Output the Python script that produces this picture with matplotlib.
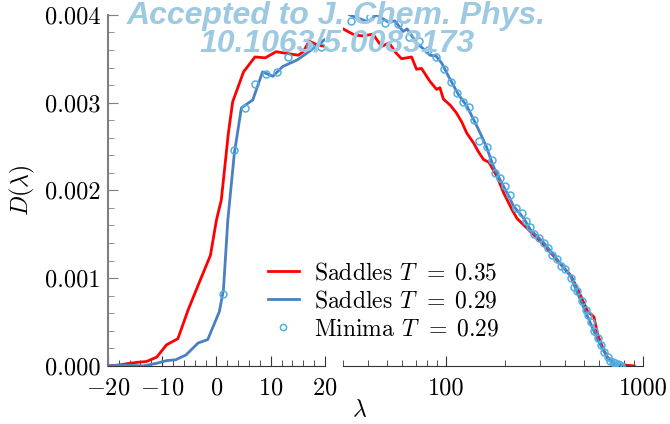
import numpy as np
import matplotlib
matplotlib.use('Agg')
import matplotlib.pyplot as plt
from matplotlib.ticker import MultipleLocator, FixedLocator, NullFormatter
from matplotlib.lines import Line2D

plt.rcParams['font.family'] = 'serif'
plt.rcParams['font.serif'] = ['cmr10']
plt.rcParams['mathtext.fontset'] = 'cm'
plt.rcParams['axes.formatter.use_mathtext'] = True

# ---- data ----
# linear part, lambda in [-20, 20]
lam_red_lin = [-20, -18, -16, -14.7, -12.9, -11.0, -9.2, -7.1, -5.2, -3.1, -1.1, 0.0, 0.9,
               2.2, 3.0, 5.0, 7.1, 9.0, 11.0, 13.0, 15.1, 16.0, 17.1, 18.5, 20]
D_red_lin = [0, 0.00001, 0.00003, 0.00004, 0.00005, 0.0001, 0.00024, 0.00031, 0.00064, 0.00096,
             0.00126, 0.00166, 0.00189, 0.00265, 0.00301, 0.00335, 0.00352, 0.00351, 0.00358,
             0.00356, 0.00354, 0.00358, 0.0037, 0.00366, 0.00364]

lam_blue_lin = [-20, -17, -13.5, -11, -9.2, -7.5, -5.6, -3.4, -1.6, 0.55, 1.3, 2.1, 3.3, 4.6,
                6.7, 8.5, 10.4, 12.2, 15.0, 17.5, 20]
D_blue_lin = [0, 0.00001, 0, 0.00003, 0.00006, 0.00007, 0.000125, 0.00026, 0.0003, 0.00062,
              0.00087, 0.00166, 0.00242, 0.00294, 0.00303, 0.00335, 0.0033, 0.00341, 0.00349,
              0.0036, 0.00372]

lam_min_lin = [1.3, 3.3, 5.3, 7.1, 9.2, 11.2, 13.2, 17.2, 19.2]
D_min_lin = [0.00082, 0.00246, 0.00294, 0.00321, 0.00333, 0.00335, 0.00352, 0.00364, 0.00363]

# log part, lambda in [30, 1000]
lam_red_log = [30, 34.3, 38, 42.6, 47, 51.4, 55, 59.4, 66.8, 70.8, 75, 82.9, 89.6, 93, 96.9,
               105, 113, 120, 127.5, 137.9, 145, 155, 165, 181, 196, 216, 229, 268, 314, 367,
               429, 464, 523, 562, 587, 630, 659, 700, 741, 800, 900]
D_red_log = [0.00384, 0.00377, 0.00376, 0.00378, 0.00364, 0.00368, 0.00358, 0.0035, 0.00352,
             0.00338, 0.00339, 0.00324, 0.00315, 0.00317, 0.00304, 0.00297, 0.00288, 0.00278,
             0.00265, 0.00254, 0.00245, 0.00235, 0.00232, 0.00216, 0.00197, 0.00178, 0.00168,
             0.00153, 0.00138, 0.00120, 0.00103, 0.00088, 0.00062, 0.00056, 0.00036, 0.00018,
             0.00010, 0.00004, 0.00002, 0.00001, 0.0]

lam_blue_log = [32.4, 36, 40.1, 44.3, 50.8, 55, 60.5, 63.4, 70.8, 76, 82.9, 89, 95, 102.8,
                115.6, 127.5, 143.4, 152, 160, 174, 188, 205, 220, 248, 268, 314, 367, 429,
                464, 523, 587, 659, 741, 780]
D_blue_log = [0.004, 0.00396, 0.00392, 0.004, 0.00392, 0.00393, 0.00381, 0.00384, 0.00368,
              0.00362, 0.00354, 0.00353, 0.00345, 0.0033, 0.00309, 0.00296, 0.00273, 0.00261,
              0.00250, 0.00227, 0.00212, 0.00196, 0.00182, 0.00168, 0.00155, 0.0014, 0.00121,
              0.00102, 0.00083, 0.00056, 0.0003, 0.00009, 0.00001, 0.0]

lam_min_log = [33, 41, 48.8, 57.2, 65, 73.2, 80.6, 88.9, 97.7, 105.7, 113.4, 121.6, 130, 137.9,
               146.2, 161, 171, 178, 187, 198, 212, 225, 243, 255, 268, 280, 295, 314, 330, 345,
               367, 385, 400, 429, 445, 464, 490, 510, 523, 545, 565, 587, 610, 630, 659, 680,
               700, 720, 741, 760, 775]
D_min_log = [0.00393, 0.00398, 0.00391, 0.0039, 0.00375, 0.0037, 0.0036, 0.00352, 0.00338,
             0.00323, 0.00311, 0.00301, 0.00295, 0.0028, 0.00256, 0.00249, 0.00235, 0.0022,
             0.00214, 0.00205, 0.00195, 0.0018, 0.00174, 0.00165, 0.00158, 0.0015, 0.00146,
             0.0014, 0.00134, 0.00126, 0.00122, 0.00114, 0.0011, 0.001, 0.0009, 0.00085,
             0.00074, 0.00064, 0.00058, 0.0005, 0.0004, 0.00032, 0.00024, 0.00016, 0.0001,
             0.00006, 0.00004, 0.00003, 0.00002, 0.00001, 0.0]

red = '#ff0000'
blue = '#4a7fc1'
cyan = '#4fb0e6'

fig = plt.figure(figsize=(6.7, 4.24), dpi=100)
ax1 = fig.add_axes([0.161, 0.137, 0.324, 0.828])
ax2 = fig.add_axes([0.512, 0.137, 0.448, 0.828])

for ax, lr, dr, lb, db, lm, dm in [
        (ax1, lam_red_lin, D_red_lin, lam_blue_lin, D_blue_lin, lam_min_lin, D_min_lin),
        (ax2, lam_red_log, D_red_log, lam_blue_log, D_blue_log, lam_min_log, D_min_log)]:
    ax.plot(lr, dr, color=red, lw=2, zorder=3)
    ax.plot(lb, db, color=blue, lw=2, zorder=4)
    ax.plot(lm, dm, 'o', mfc='none', mec=cyan, ms=5, mew=1.1, zorder=5)
    ax.set_ylim(0, 0.004)
    ax.spines['top'].set_visible(False)
    ax.spines['right'].set_visible(False)
    ax.spines['bottom'].set_color('#333333')
    ax.tick_params(which='both', direction='in', labelsize=17.5, colors='#333333',
                   labelcolor='black', pad=5)
    ax.tick_params(axis='x', which='both', pad=8)
    ax.tick_params(which='major', length=7)
    ax.tick_params(which='minor', length=4)
    ax.patch.set_visible(False)

ax1.set_xlim(-20, 20)
ax1.set_xticks([-20, -10, 0, 10, 20])
ax1.set_xticklabels([r'$-20$', r'$-10$', r'$0$', r'$10$', r'$20$'])
ax1.xaxis.set_minor_locator(MultipleLocator(2))
ax1.set_yticks([0, 0.001, 0.002, 0.003, 0.004])
ax1.set_yticklabels(['0.000', '0.001', '0.002', '0.003', '0.004'])
ax1.yaxis.set_minor_locator(MultipleLocator(0.0002))
ax1.spines['left'].set_color('#7f7f7f')
ax1.spines['left'].set_linewidth(1.5)
ax1.tick_params(axis='y', which='both', colors='#7f7f7f', labelcolor='black')
ax1.set_ylabel(r'$D(\lambda)$', fontsize=17, labelpad=6)

ax2.set_xscale('log')
ax2.set_xlim(30, 1000)
ax2.xaxis.set_major_locator(FixedLocator([100, 1000]))
ax2.set_xticklabels(['100', '1000'])
ax2.xaxis.set_minor_locator(FixedLocator([30, 40, 50, 60, 70, 80, 90, 200, 300, 400, 500,
                                          600, 700, 800, 900]))
ax2.xaxis.set_minor_formatter(NullFormatter())
ax2.spines['left'].set_visible(False)
ax2.set_yticks([])

fig.text(0.537, 0.034, r'$\lambda$', fontsize=17, ha='center', va='center')

handles = [Line2D([], [], color=red, lw=2),
           Line2D([], [], color=blue, lw=2),
           Line2D([], [], marker='o', ls='none', mfc='none', mec=cyan, ms=4.5, mew=1.1)]
labels = [r'Saddles $T\;\,=\;0.35$', r'Saddles $T\;\,=\;0.29$', r'Minima $T\;\,=\;0.29$']
fig.legend(handles, labels, loc='center left', bbox_to_anchor=(0.368, 0.29), frameon=False,
           fontsize=17, handlelength=1.3, handletextpad=0.65, labelspacing=0.25)

fig.text(0.502, 0.997, 'Accepted to J. Chem. Phys.', family='Liberation Sans', weight='bold',
         style='italic', fontsize=23, color='#9ecae1', ha='center', va='top', zorder=10)
fig.text(0.503, 0.933, '10.1063/5.0083173', family='Liberation Sans', weight='bold',
         style='italic', fontsize=23, color='#9ecae1', ha='center', va='top', zorder=10)

fig.savefig('out.png', dpi=100)
